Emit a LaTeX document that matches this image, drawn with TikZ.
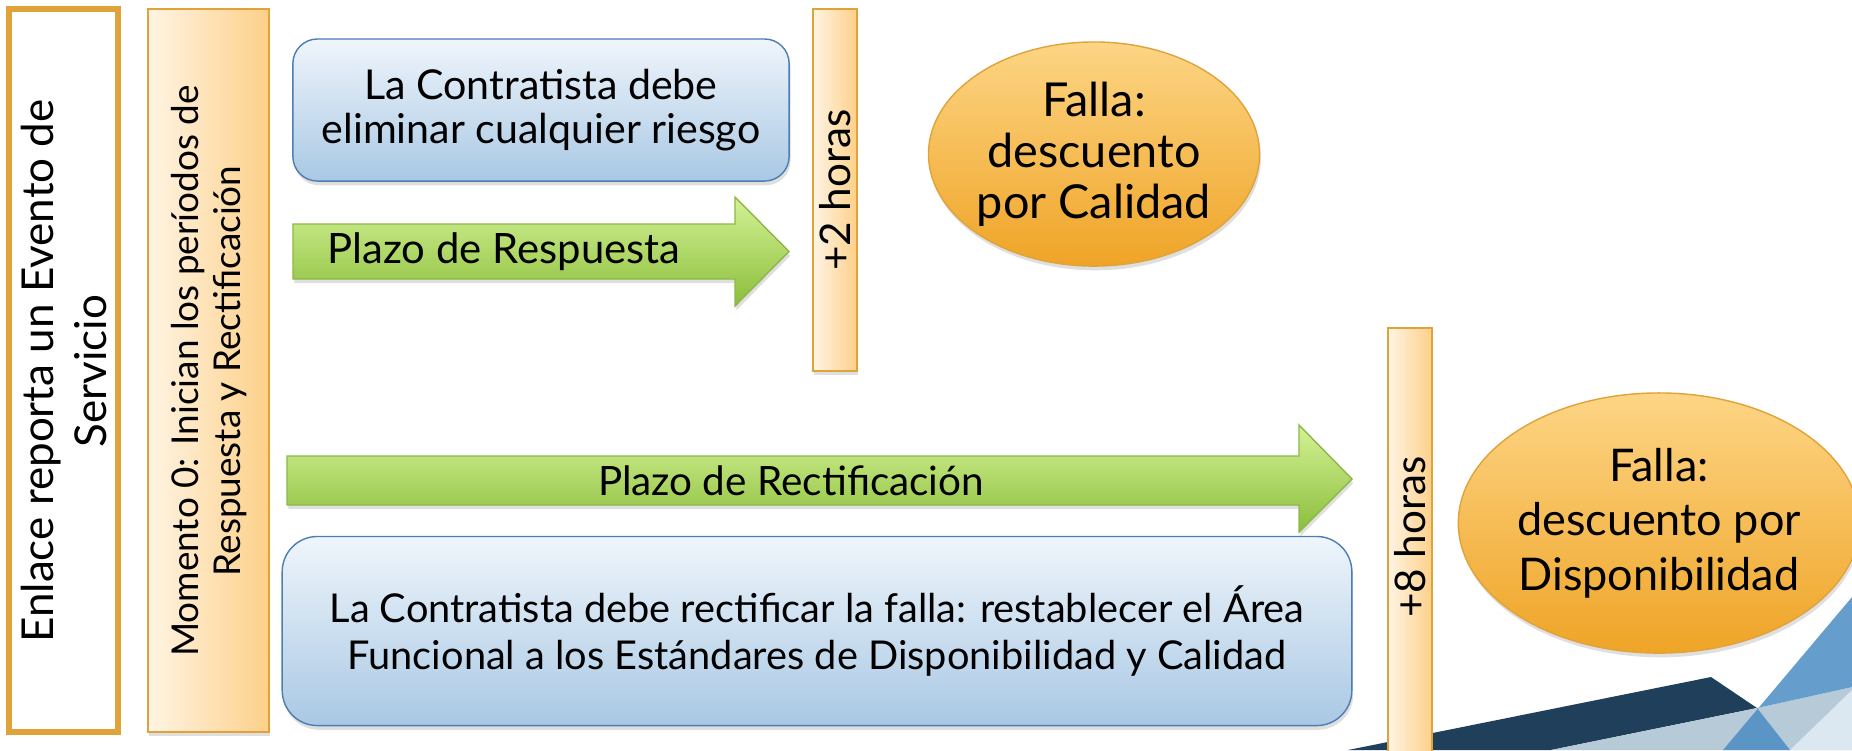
\documentclass[tikz,border=0pt]{standalone}
\usepackage{fontspec}
\setmainfont{Lato}
\usetikzlibrary{shapes.geometric,shadows}

\definecolor{naranja}{HTML}{DFA33A}
\definecolor{naranjaclaro}{HTML}{FFF4E4}
\definecolor{naranjamedio}{HTML}{FDD089}
\definecolor{elipsearriba}{HTML}{FDD585}
\definecolor{elipseabajo}{HTML}{EFA427}
\definecolor{bordeazul}{HTML}{4C7DB3}
\definecolor{azulclaro}{HTML}{EFF5FB}
\definecolor{azulmedio}{HTML}{A9C8E4}
\definecolor{verdeclaro}{HTML}{D4F296}
\definecolor{verdeoscuro}{HTML}{8BBE3B}
\definecolor{bordeverde}{HTML}{8CB845}
\definecolor{marino}{HTML}{1F3F5B}
\definecolor{grisazul}{HTML}{B6CAD8}
\definecolor{celeste}{HTML}{DCE8F1}
\definecolor{azuldeco}{HTML}{4A8CC3}

\tikzset{
	sombra/.style={drop shadow={opacity=0.25,shadow xshift=0.4pt,shadow yshift=-1.2pt}},
	tarea/.style={draw=bordeazul,top color=azulclaro,bottom color=azulmedio,rounded corners=7pt,align=center,sombra},
	falla/.style={ellipse,draw=naranja,top color=elipsearriba,bottom color=elipseabajo,align=center,inner sep=0pt,sombra},
	plazo/.style={draw=bordeverde,top color=verdeclaro,bottom color=verdeoscuro,sombra},
	barra/.style={draw=naranja,left color=naranjaclaro,right color=naranjamedio,sombra},
}

\begin{document}
\begin{tikzpicture}[x=0.01cm,y=-0.01cm]
	\useasboundingbox (0,0) rectangle (1852,750);
	
	% decoracion abajo a la derecha
	\fill[marino] (1348,750) -- (1711,677) -- (1757,708) -- (1551,750) -- cycle;
	\fill[grisazul] (1551,750) -- (1757,708) -- (1852,687) -- (1852,750) -- cycle;
	\fill[celeste] (1790,750) -- (1852,690) -- (1852,750) -- cycle;
	\fill[azuldeco,opacity=0.85] (1723,750) -- (1852,597) -- (1852,687) -- (1757,708) -- (1790,750) -- cycle;
	
	% Momento 0
	\draw[naranja,line width=1.8pt,fill=white] (9,9) rectangle (118,732);
	\node[rotate=90,align=center,font=\fontsize{12.5}{15}\selectfont] (enlace) at (64,371)
		{Enlace reporta un Evento de\\Servicio};
	\shade[barra] (148,9) rectangle (269,732);
	\node[rotate=90,align=center,font=\fontsize{10.5}{12}\selectfont] (momento) at (209,371)
		{Momento 0: Inician los períodos de\\Respuesta y Rectificación};
	
	% Respuesta
	\node[tarea,minimum width=4.96cm,minimum height=1.42cm,font=\fontsize{11.7}{12.5}\selectfont] (riesgo) at (541,110)
		{La Contratista debe\\eliminar cualquier riesgo};
	\shade[plazo] (293,224) -- (735,224) -- (735,197) -- (789,251.5) -- (735,306) -- (735,279) -- (293,279) -- cycle;
	\node[font=\fontsize{11.9}{13}\selectfont] (respuesta) at (504,251.5) {Plazo de Respuesta};
	\shade[barra] (813,9) rectangle (857,371);
	\node[rotate=90,font=\fontsize{12}{13}\selectfont] (dos) at (835,190) {+2 horas};
	\node[falla,minimum width=3.14cm,minimum height=2.24cm,font=\fontsize{13.3}{14.5}\selectfont] (calidad) at (1094,154)
		{Falla:\\descuento\\por Calidad};
	
	% Rectificacion
	\shade[plazo] (287,456) -- (1299,456) -- (1299,425) -- (1352,479) -- (1299,532) -- (1299,505) -- (287,505) -- cycle;
	\node[font=\fontsize{11.5}{12.5}\selectfont] (rectificacion) at (791,481) {Plazo de Rectificación};
	\node[tarea,rounded corners=10pt,minimum width=10.69cm,minimum height=1.89cm,font=\fontsize{11.3}{13.2}\selectfont] (falla) at (817,631)
		{La Contratista debe rectificar la falla: restablecer el Área\\Funcional a los Estándares de Disponibilidad y Calidad};
	\shade[barra] (1388,328) rectangle (1432,760);
	\node[rotate=90,font=\fontsize{12}{13}\selectfont] (ocho) at (1410,537) {+8 horas};
	\node[falla,minimum width=3.86cm,minimum height=2.6cm,font=\fontsize{12.8}{15.5}\selectfont] (disponibilidad) at (1659,523)
		{Falla:\\descuento por\\Disponibilidad};
	
\end{tikzpicture}
\end{document}
